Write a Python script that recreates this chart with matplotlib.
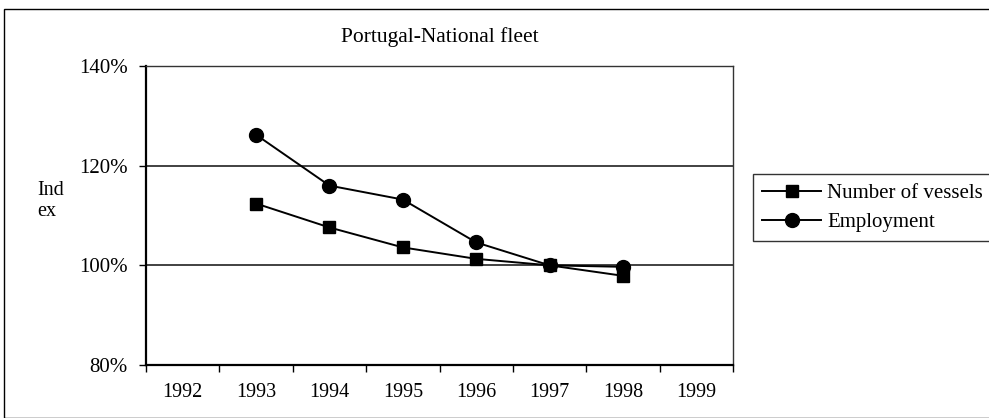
import numpy as np
import matplotlib.pyplot as plt
from matplotlib.patches import Rectangle
from matplotlib.ticker import FuncFormatter, FixedLocator

plt.rcParams['font.family'] = ['Liberation Serif', 'DejaVu Serif']

# Index values (%), 1997 = 100
years = ['1992', '1993', '1994', '1995', '1996', '1997', '1998', '1999']
data_years = ['1993', '1994', '1995', '1996', '1997', '1998']
vessels = [112.4, 107.6, 103.6, 101.3, 100.0, 97.9]
employment = [126.2, 116.0, 113.2, 104.6, 100.0, 99.7]


def main():
    fig = plt.figure(figsize=(9.89, 4.18), dpi=100)
    W, H = 989, 418

    # outer chart frame
    fig.patches.append(Rectangle((4 / W, 0), 1.2, 1 - 9 / H, transform=fig.transFigure,
                                 fill=False, edgecolor='black', linewidth=1.0))

    ax = fig.add_axes([146 / W, 1 - 365 / H, (733 - 146) / W, (365 - 66) / H])

    x = [years.index(y) for y in data_years]
    ax.plot(x, vessels, color='black', linewidth=1.4, marker='s', markersize=9,
            markerfacecolor='black', label='Number of vessels')
    ax.plot(x, employment, color='black', linewidth=1.4, marker='o', markersize=10,
            markerfacecolor='black', label='Employment')

    ax.set_xlim(-0.5, len(years) - 0.5)
    ax.set_ylim(80, 140)
    ax.set_xticks(range(len(years)))
    ax.set_xticklabels(years, fontsize=14.5)
    ax.xaxis.set_minor_locator(FixedLocator(np.arange(-0.5, len(years), 1)))
    ax.tick_params(axis='x', which='major', length=0, pad=13)
    ax.tick_params(axis='x', which='minor', length=5, width=1.0, direction='out')
    ax.set_yticks([80, 100, 120, 140])
    ax.yaxis.set_major_formatter(FuncFormatter(lambda v, p: f'{v:.0f}%'))
    ax.tick_params(axis='y', labelsize=15, length=5, width=1.0, direction='out', pad=8)

    for v in (100, 120):
        ax.axhline(v, color='#333333', linewidth=1.3, zorder=0)

    for side in ('left', 'bottom'):
        ax.spines[side].set_linewidth(1.6)
    for side in ('top', 'right'):
        ax.spines[side].set_linewidth(1.0)
        ax.spines[side].set_color('#333333')

    ax.set_title('Portugal-National fleet', fontsize=15.5, pad=17)
    fig.text(37 / W, 1 - 201 / H, 'Ind\nex', fontsize=14.5, ha='left', va='center',
             linespacing=1.2)

    leg = ax.legend(loc='upper left', bbox_to_anchor=(753 / W, 1 - 174 / H),
                    bbox_transform=fig.transFigure, borderaxespad=0, fontsize=15,
                    frameon=True, fancybox=False, handlelength=2.8, handletextpad=0.3,
                    borderpad=0.45, labelspacing=0.45)
    leg.get_frame().set_edgecolor('black')
    leg.get_frame().set_linewidth(1.0)

    fig.savefig('out.png', dpi=100)


if __name__ == "__main__":
    main()
